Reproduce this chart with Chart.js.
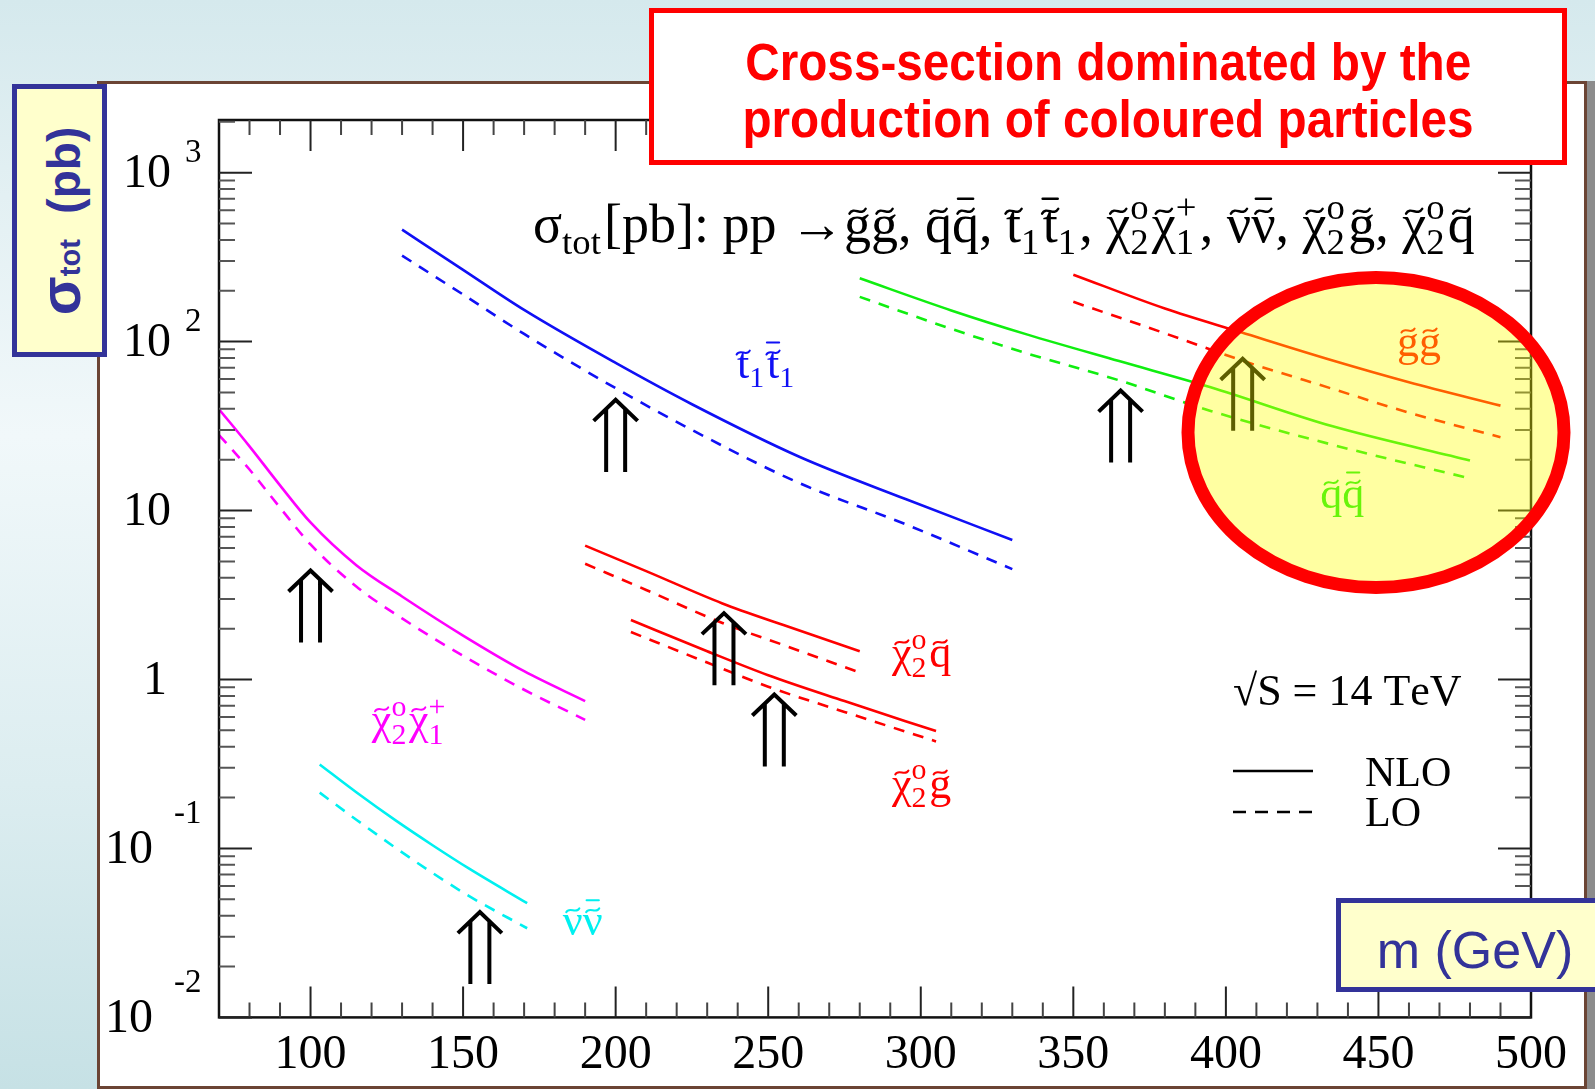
<!DOCTYPE html>
<html>
<head>
<meta charset="utf-8">
<title>SUSY cross-sections at 14 TeV</title>
<script src="https://cdn.jsdelivr.net/npm/chart.js@4.4.1/dist/chart.umd.min.js"></script>
<style>
  html, body { margin: 0; padding: 0; width: 1595px; height: 1089px; overflow: hidden; }
  body {
    position: relative;
    background: linear-gradient(180deg, #d5e9ed 0%, #e3f0f3 18%, #f1f8fa 40%, #dcedf0 72%, #c6e1e5 100%);
    font-family: "Liberation Sans", Arial, sans-serif;
  }
  #panel {
    position: absolute; left: 97px; top: 81px; width: 1484px; height: 1002px;
    background: #fff; border: 3px solid #6b4434; box-shadow: 8px 0 0 #8c8c8c;
  }
  #plot { position: absolute; left: 0; top: 0; z-index: 1; }
  .tag {
    position: absolute; z-index: 2; box-sizing: border-box;
    background: #ffffcc; border: 5px solid #333399; color: #333399;
  }
  #ytag { left: 12px; top: 84px; width: 95px; height: 273px; }
  #ytag span.t {
    position: absolute; left: 50%; top: 50%; white-space: nowrap;
    transform: translate(-50%, -50%) rotate(-90deg);
    font-size: 46px; font-weight: bold;
  }
  #ytag .sig { font-size: 57px; }
  #ytag .sub { font-size: 29px; }
  #xtag { left: 1336px; top: 898px; width: 300px; height: 94px; }
  #xtag span {
    position: absolute; left: 134px; top: 47px; transform: translate(-50%, -50%);
    font-size: 52px; white-space: nowrap;
  }
  #note {
    position: absolute; z-index: 2; left: 649px; top: 8px; width: 918px; height: 157px;
    box-sizing: border-box; background: #fff; border: 5px solid #ff0000;
    color: #ff0000; font-weight: bold; font-size: 51px; line-height: 57px;
    text-align: center; padding-top: 21px;
  }
  #note span { display: inline-block; transform: scaleX(0.935); white-space: nowrap; }
</style>
</head>
<body>
<div id="panel"></div>
<canvas id="plot" width="1595" height="1100"></canvas>
<div id="note"><span>Cross-section dominated by the</span><br><span>production of coloured particles</span></div>
<div class="tag" id="ytag"><span class="t"><span class="sig">σ</span><span class="sub">tot</span>&nbsp; (pb)</span></div>
<div class="tag" id="xtag"><span>m (GeV)</span></div>
<script>
// axis ticks
const xTicks = [100, 150, 200, 250, 300, 350, 400, 450, 500];
const yDecades = [0.01, 0.1, 1, 10, 100, 1000];

// cross sections in pb vs. sparticle mass in GeV, NLO and LO
const gluinoMass = [350, 380, 405, 435, 460, 490];
const gluinoNLO = [249, 157, 113.5, 77.3, 57.5, 41.8];
const gluinoLO = [172, 112, 77.6, 52.5, 38, 27.2];

const squarkMass = [280, 310, 335, 365, 395, 435, 480];
const squarkNLO = [237, 153, 110, 76.7, 53.7, 31.5, 19.8];
const squarkLO = [184, 119, 85, 59, 38.9, 24.5, 15.5];

const stopMass = [130, 150, 170, 200, 225, 260, 295, 330];
const stopNLO = [460, 266, 154, 74.8, 42.6, 20.9, 11.7, 6.7];
const stopLO = [323, 190, 111, 53, 30, 14.6, 8.3, 4.5];

const chiChaMass = [70, 80, 90, 100, 115, 130, 150, 170, 190];
const chiChaNLO = [39.8, 24, 14.1, 8.5, 4.75, 3.1, 1.82, 1.12, 0.745];
const chiChaLO = [28, 17.5, 10.4, 6.3, 3.55, 2.3, 1.38, 0.87, 0.577];

const sneuMass = [103, 115, 128, 140, 152, 171];
const sneuNLO = [0.314, 0.215, 0.146, 0.1045, 0.0759, 0.0474];
const sneuLO = [0.214, 0.148, 0.1005, 0.0716, 0.0522, 0.0337];

const chiSqMass = [190, 210, 235, 255, 280];
const chiSqNLO = [6.2, 4.38, 2.82, 2.1, 1.47];
const chiSqLO = [4.84, 3.39, 2.16, 1.6, 1.1];

const chiGlMass = [205, 230, 250, 275, 305];
const chiGlNLO = [2.25, 1.47, 1.06, 0.745, 0.495];
const chiGlLO = [1.91, 1.26, 0.906, 0.643, 0.43];

// mass reach arrows: tip position
const arrowMass = [100, 200, 235.5, 252, 155.5, 365.5, 405.5];
const arrowSigma = [4.42, 45.2, 2.47, 0.815, 0.042, 51.3, 79.1];

const curves = [
  { mass: gluinoMass, nlo: gluinoNLO, lo: gluinoLO, color: '#ff0000' },
  { mass: squarkMass, nlo: squarkNLO, lo: squarkLO, color: '#10ee10' },
  { mass: stopMass, nlo: stopNLO, lo: stopLO, color: '#1010f5' },
  { mass: chiChaMass, nlo: chiChaNLO, lo: chiChaLO, color: '#ff00ff' },
  { mass: sneuMass, nlo: sneuNLO, lo: sneuLO, color: '#00f0f0' },
  { mass: chiSqMass, nlo: chiSqNLO, lo: chiSqLO, color: '#ff0000' },
  { mass: chiGlMass, nlo: chiGlNLO, lo: chiGlLO, color: '#ff0000' }
];

const datasets = [];
curves.forEach(c => {
  datasets.push({ data: c.mass.map((m, i) => ({ x: m, y: c.nlo[i] })), borderColor: c.color, borderWidth: 2.6 });
  datasets.push({ data: c.mass.map((m, i) => ({ x: m, y: c.lo[i] })), borderColor: c.color, borderWidth: 2.6, borderDash: [11, 9] });
});

// process labels, anchored at their left baseline
const curveLabels = [
  { m: 239.8, s: 61.2, color: '#1010f5', parts: ['t\u0303', { b: '1' }, 't\u0303\u0304', { b: '1' }] },
  { m: 120.1, s: 0.473, color: '#ff00ff', parts: ['\u03c7\u0303', { b: '2', p: 'o' }, '\u03c7\u0303', { b: '1', p: '+' }] },
  { m: 182.7, s: 0.0306, color: '#00f0f0', parts: ['\u03bd\u0303\u03bd\u0303\u0304'] },
  { m: 290.6, s: 1.18, color: '#ff0000', parts: ['\u03c7\u0303', { b: '2', p: 'o' }, 'q\u0303'] },
  { m: 290.6, s: 0.2, color: '#ff0000', parts: ['\u03c7\u0303', { b: '2', p: 'o' }, 'g\u0303'] },
  { m: 456.1, s: 82.6, color: '#ff0000', parts: ['g\u0303g\u0303'] },
  { m: 430.9, s: 10.4, color: '#10ee10', parts: ['q\u0303q\u0303\u0304'] }
];

const titleParts = ['\u03c3', { b: 'tot' }, '[pb]: pp \u2192', 'g\u0303g\u0303, q\u0303q\u0303\u0304, t\u0303', { b: '1' },
  't\u0303\u0304', { b: '1' }, ', \u03c7\u0303', { b: '2', p: 'o' }, '\u03c7\u0303', { b: '1', p: '+' },
  ', \u03bd\u0303\u03bd\u0303\u0304, \u03c7\u0303', { b: '2', p: 'o' }, 'g\u0303, \u03c7\u0303', { b: '2', p: 'o' }, 'q\u0303'];

const highlight = { m: 449.2, s: 29, rx: 188, ry: 155 };

const serif = s => s + 'px "Liberation Serif", "Times New Roman", serif';

// tilde and bar accents drawn as strokes above the letter
function drawMark(ctx, mark, cx, y, size) {
  ctx.save();
  ctx.strokeStyle = ctx.fillStyle;
  ctx.lineWidth = size * 0.045;
  ctx.lineCap = 'round';
  ctx.beginPath();
  if (mark === '\u0303') {
    const w = size * 0.3, a = size * 0.045, yt = y - size * 0.57;
    ctx.moveTo(cx - w / 2, yt + a);
    ctx.bezierCurveTo(cx - w / 4, yt - 2.2 * a, cx + w / 4, yt + 2.2 * a, cx + w / 2, yt - a);
  } else {
    const w = size * 0.28, yb = y - size * 0.8;
    ctx.moveTo(cx - w / 2, yb); ctx.lineTo(cx + w / 2, yb);
  }
  ctx.stroke();
  ctx.restore();
}

// one run of text, glyph by glyph so combining accents can be placed by hand
function drawRun(ctx, str, x, y, size, draw) {
  ctx.font = serif(size);
  let cx = x, prev = null;
  for (const ch of str) {
    if (ch === '\u0303' || ch === '\u0304') {
      if (draw && prev) drawMark(ctx, ch, prev.x + prev.w / 2, y, size);
      continue;
    }
    const w = ctx.measureText(ch).width;
    if (draw) ctx.fillText(ch, cx, y);
    prev = { x: cx, w };
    cx += w;
  }
  return cx - x;
}

function drawRich(ctx, parts, x, y, size, color) {
  const small = size * 0.68;
  ctx.fillStyle = color;
  ctx.textAlign = 'left';
  ctx.textBaseline = 'alphabetic';
  let cx = x;
  parts.forEach(p => {
    if (typeof p === 'string') {
      cx += drawRun(ctx, p, cx, y, size, true);
    } else {
      ctx.font = serif(small);
      let w = 0;
      if (p.b) { ctx.fillText(p.b, cx, y + size * 0.22); w = ctx.measureText(p.b).width; }
      if (p.p) { ctx.fillText(p.p, cx, y - size * 0.42); w = Math.max(w, ctx.measureText(p.p).width); }
      cx += w + size * 0.06;
    }
  });
  return cx - x;
}

function drawArrow(ctx, px, py) {
  ctx.beginPath();
  ctx.moveTo(px - 22, py + 21); ctx.lineTo(px, py); ctx.lineTo(px + 22, py + 21);
  ctx.moveTo(px - 9.5, py + 9); ctx.lineTo(px - 9.5, py + 72);
  ctx.moveTo(px + 9.5, py + 9); ctx.lineTo(px + 9.5, py + 72);
  ctx.stroke();
}

const decorations = {
  id: 'decorations',
  afterDatasetsDraw(chart) {
    const { ctx, chartArea: a, scales: { x, y } } = chart;
    ctx.save();

    // frame
    ctx.strokeStyle = '#111';
    ctx.lineWidth = 2.5;
    ctx.strokeRect(a.left, a.top, a.right - a.left, a.bottom - a.top);

    // x ticks, every 10 GeV, longer every 50
    for (let m = 80; m < 500; m += 10) {
      const px = x.getPixelForValue(m);
      const len = m % 50 === 0 ? 31 : 15;
      ctx.strokeStyle = m % 50 === 0 ? '#222' : '#444';
      ctx.lineWidth = 2;
      ctx.beginPath();
      ctx.moveTo(px, a.bottom); ctx.lineTo(px, a.bottom - len);
      ctx.moveTo(px, a.top); ctx.lineTo(px, a.top + len);
      ctx.stroke();
    }

    // y ticks, decades and 2..9
    for (let e = -2; e <= 3; e++) {
      for (let k = 1; k <= 9; k++) {
        const v = k * Math.pow(10, e);
        if (v < y.min || v > y.max) continue;
        const py = y.getPixelForValue(v);
        const len = k === 1 ? 33 : 16;
        ctx.strokeStyle = k === 1 ? '#222' : '#555';
        ctx.lineWidth = 2;
        ctx.beginPath();
        ctx.moveTo(a.left, py); ctx.lineTo(a.left + len, py);
        ctx.moveTo(a.right, py); ctx.lineTo(a.right - len, py);
        ctx.stroke();
      }
    }

    // y tick labels as powers of ten
    ctx.fillStyle = '#000';
    ctx.textBaseline = 'middle';
    yDecades.forEach(v => {
      const e = Math.round(Math.log10(v));
      const py = y.getPixelForValue(v);
      ctx.font = serif(48);
      ctx.textAlign = 'right';
      if (e === 0) { ctx.fillText('1', a.left - 52, py + 2); return; }
      if (e === 1) { ctx.fillText('10', a.left - 48, py + 2); return; }
      if (e > 1) {
        ctx.fillText('10', a.left - 48, py + 2);
        ctx.font = serif(33);
        ctx.textAlign = 'left';
        ctx.fillText(String(e), a.left - 34, py - 19);
      } else {
        ctx.fillText('10', a.left - 66, py + 2);
        ctx.font = serif(33);
        ctx.textAlign = 'left';
        ctx.fillText(String(e), a.left - 45, py - 34);
      }
    });

    // mass reach arrows
    ctx.strokeStyle = '#000';
    ctx.lineWidth = 4;
    arrowMass.forEach((m, i) => drawArrow(ctx, x.getPixelForValue(m), y.getPixelForValue(arrowSigma[i])));

    // process labels
    curveLabels.forEach(l => drawRich(ctx, l.parts, x.getPixelForValue(l.m), y.getPixelForValue(l.s), 44, l.color));

    // process list
    drawRich(ctx, titleParts, a.left + 314, a.top + 122, 54, '#000');

    // energy and line-style key
    drawRich(ctx, ['\u221aS = 14 TeV'], a.left + 1014, a.top + 585, 44, '#000');
    ctx.strokeStyle = '#000';
    ctx.lineWidth = 2.6;
    ctx.beginPath();
    ctx.moveTo(a.left + 1014, a.top + 651); ctx.lineTo(a.left + 1094, a.top + 651);
    ctx.stroke();
    ctx.setLineDash([13, 9]);
    ctx.beginPath();
    ctx.moveTo(a.left + 1014, a.top + 692); ctx.lineTo(a.left + 1094, a.top + 692);
    ctx.stroke();
    ctx.setLineDash([]);
    drawRich(ctx, ['NLO'], a.left + 1146, a.top + 666, 42, '#000');
    drawRich(ctx, ['LO'], a.left + 1146, a.top + 706, 42, '#000');

    // highlighted region: gluino and squark pairs
    const hx = x.getPixelForValue(highlight.m);
    const hy = y.getPixelForValue(highlight.s);
    ctx.beginPath();
    ctx.ellipse(hx, hy, highlight.rx, highlight.ry, 0, 0, Math.PI * 2);
    ctx.fillStyle = 'rgba(255, 255, 0, 0.37)';
    ctx.fill();
    ctx.strokeStyle = '#ff0000';
    ctx.lineWidth = 13;
    ctx.stroke();

    ctx.restore();
  }
};

new Chart(document.getElementById('plot'), {
  type: 'line',
  data: { datasets },
  options: {
    responsive: false,
    animation: false,
    layout: { padding: { left: 219, top: 120, right: 64, bottom: 7 } },
    elements: {
      point: { radius: 0 },
      line: { cubicInterpolationMode: 'monotone', fill: false }
    },
    plugins: { legend: { display: false }, tooltip: { enabled: false } },
    scales: {
      x: {
        type: 'linear', min: 70, max: 500,
        grid: { display: false, drawTicks: false },
        border: { display: false },
        afterBuildTicks: s => { s.ticks = xTicks.map(v => ({ value: v })); },
        ticks: { color: '#000', padding: 9, maxRotation: 0, autoSkip: false, font: { family: '"Liberation Serif", "Times New Roman", serif', size: 48 } }
      },
      y: { type: 'logarithmic', min: 0.01, max: 2050, display: false }
    }
  },
  plugins: [decorations]
});
</script>
</body>
</html>
